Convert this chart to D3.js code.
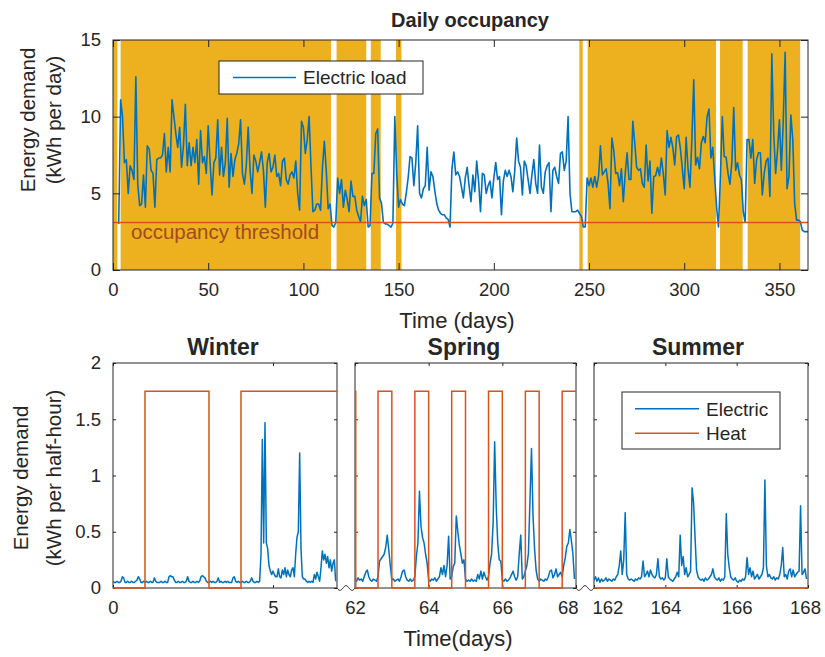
<!DOCTYPE html>
<html><head><meta charset="utf-8">
<script src="https://cdn.jsdelivr.net/npm/d3@7"></script>
<style>
body{margin:0;background:#fff}
svg text{font-family:"Liberation Sans",Arial,Helvetica,sans-serif;fill:#262626}
</style>
</head><body>
<svg id="chart" width="825" height="657"></svg>
<script>
// ---------------- DATA ----------------
const topXTicks = [0,50,100,150,200,250,300,350];
const topYTicks = [0,5,10,15];
const occupancyThreshold = 3.1;
// occupied periods [startDay, endDay]
const occupiedPeriods = [[0,2.3],[4.0,114.5],[117.4,133.0],[135.4,140.6],[148.6,151.5],[244.9,246.7],[249.3,316.7],[318.8,330.7],[333.3,360.9]];
const loadStartDay = 3;
// daily electric load (kWh per day), days 3..365
const dailyLoad = [
 3.0,
 11.1,10.0,7.0,7.2,5.0,6.8,6.5,5.9,12.6,
 5.6,4.2,4.3,6.2,4.1,8.1,7.9,6.5,6.3,4.1,
 7.2,7.3,7.3,7.5,8.9,6.4,8.0,6.4,11.1,10.0,
 8.9,8.0,9.3,6.7,8.1,10.8,6.8,8.3,6.8,8.0,
 7.0,8.5,5.6,9.1,7.0,7.4,6.3,9.4,7.0,4.9,
 7.0,7.3,9.8,6.2,8.0,6.1,7.0,9.9,5.4,7.6,
 6.1,7.2,7.6,8.2,9.8,6.3,5.6,6.8,9.3,6.5,
 5.0,7.5,7.1,6.4,7.0,7.7,6.5,4.1,7.0,7.6,
 6.4,6.7,7.5,6.1,6.3,5.5,7.1,7.3,5.9,5.6,
 6.2,6.4,6.0,7.1,5.0,3.9,9.7,9.3,7.6,8.5,
 10.0,6.7,3.8,3.9,4.3,4.3,3.9,6.7,8.4,6.5,
 4.0,4.3,2.9,2.8,3.1,6.0,5.0,5.9,4.1,5.2,
 4.6,3.8,5.8,4.8,4.8,3.9,3.5,3.15,4.8,4.2,
 4.6,2.8,2.9,6.3,6.3,8.9,9.2,4.7,4.35,3.1,
 3.0,3.0,2.9,2.8,3.05,10.0,6.3,4.1,4.6,4.3,
 4.2,5.0,6.0,7.4,7.3,5.5,7.0,9.4,5.0,4.7,
 5.3,5.5,8.0,5.2,6.4,6.1,5.2,4.35,3.9,3.7,
 3.6,3.6,3.4,3.3,2.8,6.6,7.7,6.2,6.4,6.1,
 5.4,4.7,6.0,6.7,5.5,4.45,6.2,5.1,7.1,5.8,
 3.8,6.3,6.2,5.0,5.5,5.8,4.7,6.0,7.0,5.9,
 6.1,3.6,5.8,6.5,6.1,6.5,6.1,5.1,6.5,8.6,
 7.1,6.7,4.9,7.1,6.8,5.9,5.0,6.2,7.2,5.65,
 5.0,8.15,5.4,5.0,6.4,6.8,7.0,3.8,6.5,6.7,
 6.1,5.65,7.6,7.7,6.5,7.1,10.0,5.0,3.8,3.8,
 3.8,3.9,3.7,3.5,2.8,2.8,6.0,
 5.5,6.0,5.4,6.1,5.4,6.1,
 8.1,6.2,6.4,6.6,5.65,4.0,8.6,7.8,6.3,6.35,
 5.5,6.6,4.45,6.3,7.65,5.9,5.9,9.7,8.3,6.7,
 6.5,6.6,5.65,5.4,8.15,5.8,7.1,3.7,6.1,6.15,
 6.7,6.15,7.3,6.3,4.9,9.1,8.0,8.65,8.0,6.85,
 8.7,8.8,7.9,6.6,5.3,8.65,6.6,5.4,8.5,12.4,
 6.85,7.35,6.6,8.3,8.7,8.3,10.0,10.5,7.3,8.0,
 6.0,4.1,2.8,6.1,10.0,7.4,7.35,6.3,5.6,7.0,
 10.6,6.5,7.0,6.2,5.9,3.8,3.1,8.5,8.5,7.3,
 8.5,5.65,7.2,7.65,7.65,4.9,6.3,7.1,7.3,4.8,
 14.1,8.9,6.3,7.8,9.8,6.5,9.7,14.2,5.3,6.1,
 10.1,8.5,4.35,3.25,3.25,3.15,2.6,2.5,2.5,2.5
];

const bottomYTicks = [0,0.5,1,1.5,2];
const seasonNames = ["Winter","Spring","Summer"];
const seasonDomains = [[0,7],[62,68],[162,168]];
const seasonXTicks = [[0,5],[62,64,66,68],[162,164,166,168]];
// hourly electric demand samples (kWh per half-hour), starting at domain start
const winterElectric = [
 0.06,0.05,0.05,0.06,0.05,0.05,0.06,0.10,0.09,0.05,0.05,0.06,0.05,0.05,0.06,0.05,0.05,0.06,0.07,0.10,0.08,0.05,0.05,0.06,
 0.05,0.06,0.05,0.05,0.06,0.05,0.05,0.09,0.06,0.05,0.05,0.05,0.06,0.05,0.05,0.06,0.05,0.05,0.10,0.11,0.10,0.10,0.07,0.05,
 0.05,0.06,0.05,0.05,0.06,0.05,0.05,0.06,0.10,0.06,0.05,0.05,0.06,0.05,0.05,0.06,0.05,0.06,0.10,0.11,0.10,0.09,0.06,0.05,
 0.05,0.06,0.05,0.06,0.05,0.05,0.06,0.09,0.05,0.06,0.05,0.05,0.06,0.05,0.06,0.05,0.05,0.05,0.09,0.10,0.06,0.05,0.06,0.05,
 0.05,0.06,0.05,0.05,0.06,0.05,0.05,0.06,0.09,0.06,0.05,0.05,0.06,0.05,0.06,0.30,1.32,0.40,1.47,0.40,0.35,0.20,0.15,0.12,
 0.15,0.12,0.10,0.10,0.17,0.10,0.09,0.16,0.12,0.18,0.10,0.16,0.12,0.10,0.16,0.18,0.10,0.30,0.45,0.50,1.20,0.35,0.10,0.08,
 0.08,0.06,0.05,0.06,0.05,0.06,0.05,0.12,0.08,0.14,0.10,0.06,0.18,0.33,0.25,0.30,0.22,0.28,0.18,0.25,0.15,0.22,0.25,0.06
];
const springElectric = [
 0.08,0.06,0.09,0.07,0.08,0.06,0.10,0.14,0.16,0.10,0.07,0.06,0.08,0.07,0.06,0.10,0.24,0.26,0.28,0.30,0.36,0.47,0.34,0.20,
 0.07,0.08,0.06,0.07,0.08,0.06,0.10,0.15,0.16,0.10,0.07,0.06,0.08,0.06,0.07,0.10,0.28,0.40,0.86,0.55,0.45,0.40,0.30,0.22,
 0.07,0.06,0.08,0.07,0.09,0.06,0.08,0.10,0.18,0.12,0.20,0.10,0.20,0.46,0.08,0.10,0.19,0.22,0.64,0.50,0.38,0.30,0.22,0.25,
 0.08,0.06,0.07,0.06,0.08,0.06,0.07,0.06,0.12,0.08,0.15,0.08,0.14,0.10,0.07,0.10,0.22,0.30,0.58,1.30,0.73,0.40,0.25,0.24,
 0.07,0.06,0.08,0.06,0.07,0.09,0.12,0.15,0.10,0.07,0.10,0.30,0.47,0.08,0.10,0.15,0.20,0.31,0.78,1.24,0.64,0.35,0.16,0.08,
 0.06,0.08,0.07,0.06,0.08,0.07,0.10,0.15,0.16,0.09,0.12,0.17,0.10,0.12,0.14,0.10,0.20,0.27,0.37,0.40,0.52,0.42,0.30,0.08
];
const summerElectric = [
 0.07,0.10,0.06,0.09,0.05,0.08,0.06,0.07,0.09,0.06,0.08,0.07,0.06,0.08,0.07,0.10,0.12,0.20,0.33,0.12,0.25,0.67,0.12,0.08,
 0.07,0.08,0.07,0.06,0.08,0.07,0.09,0.08,0.10,0.24,0.10,0.12,0.15,0.10,0.16,0.12,0.10,0.09,0.12,0.26,0.10,0.08,0.09,0.07,
 0.09,0.26,0.10,0.08,0.07,0.06,0.08,0.10,0.14,0.10,0.47,0.20,0.28,0.12,0.18,0.10,0.12,0.15,0.89,0.76,0.45,0.16,0.10,0.08,
 0.07,0.08,0.06,0.09,0.07,0.08,0.10,0.12,0.17,0.10,0.08,0.07,0.09,0.06,0.08,0.07,0.10,0.66,0.30,0.18,0.10,0.08,0.07,0.09,
 0.06,0.05,0.07,0.06,0.08,0.07,0.10,0.27,0.12,0.18,0.10,0.15,0.08,0.10,0.12,0.08,0.10,0.12,0.18,0.96,0.20,0.10,0.12,0.09,
 0.08,0.10,0.07,0.09,0.08,0.12,0.20,0.36,0.10,0.12,0.08,0.15,0.17,0.10,0.16,0.10,0.12,0.14,0.15,0.73,0.12,0.14,0.17,0.08
];
// heat demand step change points [time, value]
const winterHeat = [[0,0],[1,1.75],[3,0],[4,1.75],[7,1.75]];
const springHeat = [[62,1.75],[62.02,0],[62.625,1.75],[63,0],[63.625,1.75],[64,0],[64.625,1.75],[65,0],[65.625,1.75],[66,0],[66.625,1.75],[67,0],[67.625,1.75],[68,1.75]];
const summerHeat = [[162,0],[168,0]];

// ---------------- STYLE ----------------
const C_BLUE = "#0072BD", C_ORANGE = "#D95319", C_YELLOW = "#EDB120", C_AX = "#262626";
const svg = d3.select("#chart");
const FS_TICK = 18.5, FS_YLAB = 20.5, FS_XLAB = 22, FS_TITLE = 20, FS_STITLE = 23, FS_LEG = 19;

// ---------------- TOP CHART ----------------
const T = {l:113, r:808, t:40, b:270};
const xT = d3.scaleLinear().domain([0,365]).range([T.l,T.r]);
const yT = d3.scaleLinear().domain([0,15]).range([T.b,T.t]);
const gT = svg.append("g");

gT.selectAll("rect.occ").data(occupiedPeriods).join("rect")
  .attr("x", d=>xT(d[0])).attr("width", d=>xT(d[1])-xT(d[0]))
  .attr("y", T.t).attr("height", T.b-T.t).attr("fill", C_YELLOW);

gT.append("path").datum(dailyLoad)
  .attr("fill","none").attr("stroke",C_BLUE).attr("stroke-width",1.6).attr("stroke-linejoin","round")
  .attr("d", d3.line().x((d,i)=>xT(loadStartDay+i)).y(d=>yT(d)));

gT.append("line").attr("x1",T.l).attr("x2",T.r).attr("y1",yT(occupancyThreshold)).attr("y2",yT(occupancyThreshold))
  .attr("stroke",C_ORANGE).attr("stroke-width",1.6);
gT.append("text").attr("x",131).attr("y",yT(occupancyThreshold)+16.5).attr("font-size",20.5)
  .style("fill","#A24A1C").text("occupancy threshold");

function styleAxis(g){
  g.select(".domain").remove();
  g.selectAll(".tick line").attr("stroke",C_AX);
  g.selectAll(".tick text").style("fill",C_AX).attr("font-size",FS_TICK).attr("font-family",null);
}
gT.append("g").attr("transform",`translate(0,${T.b})`)
  .call(d3.axisBottom(xT).tickValues(topXTicks).tickSizeInner(-7).tickSizeOuter(0).tickPadding(13)).call(styleAxis);
gT.append("g").attr("transform",`translate(0,${T.t})`)
  .call(d3.axisTop(xT).tickValues(topXTicks).tickSizeInner(-7).tickSizeOuter(0).tickFormat("")).call(styleAxis);
gT.append("g").attr("transform",`translate(${T.l},0)`)
  .call(d3.axisLeft(yT).tickValues(topYTicks).tickSizeInner(-7).tickSizeOuter(0).tickPadding(12)).call(styleAxis);
gT.append("g").attr("transform",`translate(${T.r},0)`)
  .call(d3.axisRight(yT).tickValues(topYTicks).tickSizeInner(-7).tickSizeOuter(0).tickFormat("")).call(styleAxis);
gT.append("rect").attr("x",T.l).attr("y",T.t).attr("width",T.r-T.l).attr("height",T.b-T.t)
  .attr("fill","none").attr("stroke",C_AX).attr("stroke-width",1);

// top legend
const L1 = {x:219, y:61, w:204, h:33};
gT.append("rect").attr("x",L1.x).attr("y",L1.y).attr("width",L1.w).attr("height",L1.h)
  .attr("fill","#fff").attr("stroke",C_AX).attr("stroke-width",1);
gT.append("line").attr("x1",L1.x+14).attr("x2",L1.x+77).attr("y1",L1.y+L1.h/2).attr("y2",L1.y+L1.h/2)
  .attr("stroke",C_BLUE).attr("stroke-width",1.6);
gT.append("text").attr("x",L1.x+84).attr("y",L1.y+L1.h/2+6.8).attr("font-size",FS_LEG).text("Electric load");

// titles / labels
svg.append("text").attr("x",470).attr("y",27).attr("text-anchor","middle")
  .attr("font-size",FS_TITLE).attr("font-weight","bold").text("Daily occupancy");
svg.append("text").attr("x",457).attr("y",328).attr("text-anchor","middle")
  .attr("font-size",FS_XLAB).text("Time (days)");
const yl1 = svg.append("text").attr("transform",`translate(35,120) rotate(-90)`)
  .attr("text-anchor","middle").attr("font-size",FS_YLAB);
yl1.append("tspan").attr("x",0).attr("y",0).text("Energy demand");
yl1.append("tspan").attr("x",0).attr("y",26).text("(kWh per day)");

// ---------------- BOTTOM PANELS ----------------
const B = {t:363, b:588};
const panelX = [[113,337],[355,576],[594,808]];
const titleX = [223,464,698];
const yB = d3.scaleLinear().domain([0,2]).range([B.b,B.t]);
const elecSeries = [winterElectric, springElectric, summerElectric];
const heatSeries = [winterHeat, springHeat, summerHeat];
const defs = svg.append("defs");

seasonNames.forEach((name,k)=>{
  const x = d3.scaleLinear().domain(seasonDomains[k]).range(panelX[k]);
  const g = svg.append("g");
  const [x0,x1] = panelX[k];
  defs.append("clipPath").attr("id","clip"+k).append("rect")
    .attr("x",x0).attr("y",B.t).attr("width",x1-x0).attr("height",B.b-B.t+2);

  g.append("rect").attr("x",x0).attr("y",B.t).attr("width",x1-x0).attr("height",B.b-B.t)
    .attr("fill","#fff").attr("stroke",C_AX).attr("stroke-width",1);

  const bx = g.append("g").attr("transform",`translate(0,${B.b})`)
    .call(d3.axisBottom(x).tickValues(seasonXTicks[k]).tickSizeInner(-3).tickSizeOuter(0).tickPadding(13).tickFormat(d3.format("d")))
    .call(styleAxis);
  bx.selectAll(".tick text").attr("text-anchor", d => {
      if (d===68) return "end";
      if (d===162) return "start";
      return "middle";
    })
    .attr("dx", d => d===68 ? 2 : d===162 ? -2 : (d===168 ? -3 : 0));
  g.append("g").attr("transform",`translate(0,${B.t})`)
    .call(d3.axisTop(x).tickValues(seasonXTicks[k]).tickSizeInner(-3).tickSizeOuter(0).tickFormat("")).call(styleAxis);
  g.append("g").attr("transform",`translate(${x0},0)`)
    .call(d3.axisLeft(yB).tickValues(bottomYTicks).tickSizeInner(-3).tickSizeOuter(0).tickPadding(12).tickFormat(k===0?d3.format("~g"):"")).call(styleAxis);
  g.append("g").attr("transform",`translate(${x1},0)`)
    .call(d3.axisRight(yB).tickValues(bottomYTicks).tickSizeInner(-3).tickSizeOuter(0).tickFormat("")).call(styleAxis);

  const step = 1/24;
  const t0 = seasonDomains[k][0];
  g.append("path").datum(elecSeries[k]).attr("clip-path",`url(#clip${k})`)
    .attr("fill","none").attr("stroke",C_BLUE).attr("stroke-width",1.5).attr("stroke-linejoin","round")
    .attr("d", d3.line().x((d,i)=>x(t0+i*step)).y(d=>yB(d)));
  g.append("path").datum(heatSeries[k]).attr("clip-path",`url(#clip${k})`)
    .attr("fill","none").attr("stroke",C_ORANGE).attr("stroke-width",1.5)
    .attr("d", d3.line().curve(d3.curveStepAfter).x(d=>x(d[0])).y(d=>yB(d[1])));

  svg.append("text").attr("x",titleX[k]).attr("y",355).attr("text-anchor","middle")
    .attr("font-size",FS_STITLE).attr("font-weight","bold").text(name);
});

// axis break squiggles
for (let k=0;k<2;k++){
  const xa = panelX[k][1], xb = panelX[k+1][0];
  const pts = d3.range(0,1.0001,0.05).map(t=>[xa+t*(xb-xa), B.b + 2.5*Math.sin(2*Math.PI*1.5*t)]);
  svg.append("path").datum(pts).attr("fill","none").attr("stroke",C_AX).attr("stroke-width",1)
    .attr("d", d3.line().curve(d3.curveBasis));
}

// bottom summer legend
const L2 = {x:622, y:392, w:158, h:57};
svg.append("rect").attr("x",L2.x).attr("y",L2.y).attr("width",L2.w).attr("height",L2.h)
  .attr("fill","#fff").attr("stroke",C_AX).attr("stroke-width",1);
[["Electric",C_BLUE],["Heat",C_ORANGE]].forEach(([lab,col],i)=>{
  const yy = L2.y + 16.7 + i*24.6;
  svg.append("line").attr("x1",L2.x+13).attr("x2",L2.x+77).attr("y1",yy).attr("y2",yy)
    .attr("stroke",col).attr("stroke-width",1.5);
  svg.append("text").attr("x",L2.x+84).attr("y",yy+6.8).attr("font-size",FS_LEG).text(lab);
});

svg.append("text").attr("x",458).attr("y",646).attr("text-anchor","middle")
  .attr("font-size",FS_XLAB).text("Time(days)");
const yl2 = svg.append("text").attr("transform",`translate(28,478) rotate(-90)`)
  .attr("text-anchor","middle").attr("font-size",FS_YLAB);
yl2.append("tspan").attr("x",0).attr("y",0).text("Energy demand");
yl2.append("tspan").attr("x",0).attr("y",33).text("(kWh per half-hour)");
</script>
</body></html>
